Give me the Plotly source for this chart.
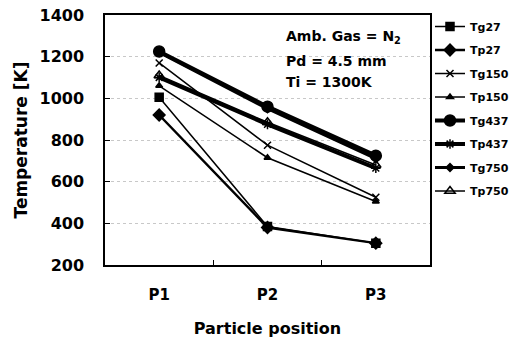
import plotly.graph_objects as go

positions = ["P1", "P2", "P3"]
series_names = ["Tg27", "Tp27", "Tg150", "Tp150", "Tg437", "Tp437", "Tg750", "Tp750"]
Tg27 = [1005, 385, 305]
Tp27 = [920, 380, 305]
Tg150 = [1170, 775, 525]
Tp150 = [1060, 715, 505]
Tg437 = [1225, 960, 725]
Tp437 = [1100, 875, 665]
Tg750 = [1220, 950, 710]
Tp750 = [1110, 885, 680]

values = [Tg27, Tp27, Tg150, Tp150, Tg437, Tp437, Tg750, Tp750]
styles = [
    dict(symbol="square", size=8, width=1.5),
    dict(symbol="diamond", size=9, width=2.5),
    dict(symbol="x-thin-open", size=7, width=1.5),
    dict(symbol="triangle-up", size=6, width=1.5),
    dict(symbol="circle", size=11, width=4),
    dict(symbol="asterisk-open", size=8, width=4),
    dict(symbol="diamond", size=6, width=3),
    dict(symbol="triangle-up-open", size=9, width=1.5),
]

fig = go.Figure()
for name, vals, st in zip(series_names, values, styles):
    fig.add_trace(go.Scatter(
        x=positions, y=vals, name=name, mode="lines+markers",
        legendgroup=name,
        line=dict(color="black", width=st["width"]),
        marker=dict(symbol=st["symbol"], size=st["size"], color="black",
                    line=dict(color="black", width=1.5)),
    ))

ff = "DejaVu Sans, Liberation Sans, Arial, sans-serif"
fig.update_layout(
    width=513, height=343,
    margin=dict(l=105, r=83, t=15, b=78, autoexpand=False),
    paper_bgcolor="white", plot_bgcolor="white",
    font=dict(family=ff, color="black"),
    showlegend=True,
    legend=dict(x=1.0, y=0.965, xanchor="left", yanchor="top", yref="container",
                maxheight=320,
                font=dict(size=11, family=ff, weight="bold"),
                tracegroupgap=4.5, itemwidth=30, bgcolor="rgba(0,0,0,0)"),
    xaxis=dict(
        type="category", range=[-0.5, 2.5], automargin=False,
        showline=True, linecolor="black", linewidth=1.5, mirror=True,
        ticks="inside", tickson="boundaries", ticklen=5, tickcolor="black",
        showgrid=False, ticklabelstandoff=15,
        tickfont=dict(size=15, family=ff, weight="bold"),
        title=dict(text="Particle position", font=dict(size=16, family=ff, weight="bold"), standoff=20),
    ),
    yaxis=dict(
        range=[200, 1400], dtick=200, automargin=False,
        showline=True, linecolor="black", linewidth=1.5, mirror=True,
        ticks="inside", ticklen=5, tickcolor="black",
        showgrid=True, gridcolor="#c8c8c8", griddash="dot", gridwidth=1,
        ticklabelstandoff=16,
        tickfont=dict(size=16, family=ff, weight="bold"),
        title=dict(text="Temperature [K]", font=dict(size=17, family=ff, weight="bold"), standoff=8),
    ),
)

ann_lines = ["Amb. Gas = N<sub>2</sub>", "Pd = 4.5 mm", "Ti = 1300K"]
ann_y = [0.912, 0.816, 0.732]
for t, yy in zip(ann_lines, ann_y):
    fig.add_annotation(
        xref="paper", yref="paper", x=0.55, y=yy,
        xanchor="left", yanchor="middle", showarrow=False, text=t,
        font=dict(size=14, family=ff, weight="bold", color="black"),
    )

fig.write_html("out.html")
